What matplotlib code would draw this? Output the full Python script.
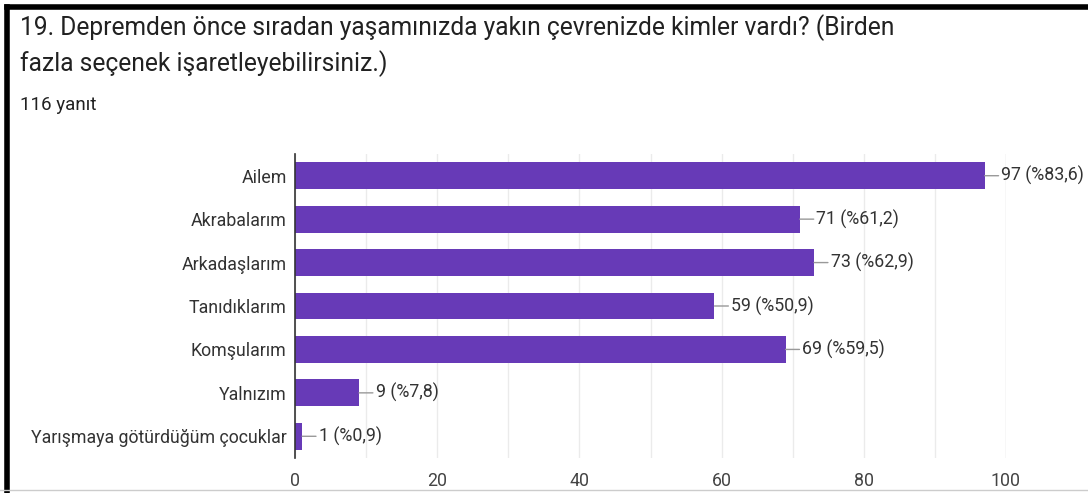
import matplotlib.pyplot as plt
from matplotlib.lines import Line2D

plt.rcParams['font.family'] = ['Roboto', 'DejaVu Sans']

categories = ['Ailem', 'Akrabalarım', 'Arkadaşlarım', 'Tanıdıklarım',
              'Komşularım', 'Yalnızım', 'Yarışmaya götürdüğüm çocuklar']
counts = [97, 71, 73, 59, 69, 9, 1]
percents = ['83,6', '61,2', '62,9', '50,9', '59,5', '7,8', '0,9']
xticks = [0, 20, 40, 60, 80, 100]

title = ('19. Depremden önce sıradan yaşamınızda yakın çevrenizde kimler vardı? (Birden\n'
         'fazla seçenek işaretleyebilirsiniz.)')
subtitle = '116 yanıt'

fig = plt.figure(figsize=(10.88, 4.93), dpi=100)
ax = fig.add_axes([295 / 1088, 1 - 458 / 493, 711 / 1088, 304 / 493])

ypos = list(range(len(categories)))
ax.barh(ypos, counts, height=0.62, color='#673ab7', zorder=3)

for y, c, p in zip(ypos, counts, percents):
    ax.annotate('%d (%%%s)' % (c, p), xy=(c, y), xytext=(12, 0),
                textcoords='offset points', va='center', ha='left',
                fontsize=12.8, color='#333333', annotation_clip=False,
                arrowprops=dict(arrowstyle='-', color='#999999', lw=1,
                                shrinkA=0, shrinkB=0))

ax.set_xlim(0, 100)
ax.set_ylim(len(categories) - 0.5, -0.5)
ax.set_yticks(ypos)
ax.set_yticklabels(categories, fontsize=12.8, color='#333333')
ax.set_xticks(xticks)
ax.set_xticklabels([str(t) for t in xticks], fontsize=12.8, color='#444444')
ax.set_xticks(range(10, 100, 20), minor=True)
ax.grid(axis='x', which='both', color='#ebebeb', lw=1, zorder=0)
ax.tick_params(which='both', length=0, pad=6)
ax.tick_params(axis='x', pad=10)
for s in ['top', 'right', 'bottom']:
    ax.spines[s].set_visible(False)
ax.spines['left'].set_color('#333333')
ax.spines['left'].set_linewidth(1.2)
ax.spines['left'].set_zorder(4)
# right edge gridline at 100
ax.axvline(100, color='#ebebeb', lw=1, zorder=0)

fig.text(20 / 1088, 1 - 14 / 493, title, fontsize=17.7, color='#212121',
         va='top', ha='left', linespacing=1.45)
fig.text(20 / 1088, 1 - 105 / 493, subtitle, fontsize=13.5, color='#212121',
         va='center', ha='left')

# screenshot frame
fig.add_artist(Line2D([7 / 1088, 7 / 1088], [0, 1 - 7 / 493], color='black', lw=4))
fig.add_artist(Line2D([7 / 1088, 1], [1 - 7 / 493, 1 - 7 / 493], color='black', lw=4))
fig.add_artist(Line2D([0, 1], [3 / 493, 3 / 493], color='#cccccc', lw=1))

fig.savefig('out.png', dpi=100)
